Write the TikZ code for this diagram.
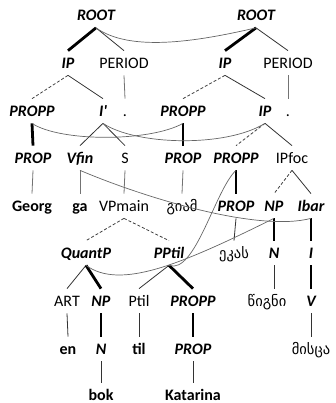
\documentclass[tikz,border=0pt]{standalone}
\usepackage{fontspec}
\setmainfont{Carlito}
\newfontfamily\geo{DejaVu Sans}
\begin{document}
\begin{tikzpicture}[x=1pt,y=-1pt,
  lab/.style={inner xsep=1pt, inner ysep=7pt, text height=10.3pt, text depth=0pt, font=\fontsize{16}{18}\selectfont},
  bi/.style={lab, font=\fontsize{16}{18}\selectfont\bfseries\itshape},
  rg/.style={lab},
  wd/.style={lab, font=\fontsize{16}{18}\selectfont\bfseries},
  ge/.style={lab, font=\geo\fontsize{14.5}{16}\selectfont},
  tk/.style={line width=2.8pt, black},
  tn/.style={line width=0.8pt, black!80},
  lt/.style={line width=0.8pt, black!55},
  ds/.style={line width=0.8pt, black!75, dash pattern=on 3pt off 2pt},
  al/.style={line width=0.7pt, black!60}]
\useasboundingbox (0,0) rectangle (336,403);
% left tree
\node[bi] (rootL) at (96,15.5) {ROOT};
\node[bi] (ipL) at (68,63) {IP};
\node[rg] (perL) at (124,63) {PERIOD};
\node[bi] (proppL) at (32,111) {PROPP};
\node[bi] (ibarL) at (103,111) {I\textquotesingle};
\node[rg] (dotL) at (125,111) {.};
\node[bi] (propL) at (33,158) {PROP};
\node[bi] (vfin) at (80,158) {Vfin};
\node[rg] (s) at (125,158) {S};
\node[wd] (georg) at (32,206) {Georg};
\node[wd] (ga) at (80,206) {ga};
\node[rg] (vpmain) at (124,206) {VPmain};
\node[bi] (quantp) at (86,253) {QuantP};
\node[bi] (pptil) at (169,253) {PPtil};
\node[rg] (art) at (67,301) {ART};
\node[bi] (npL) at (101,301) {NP};
\node[rg] (ptil) at (139,301) {Ptil};
\node[bi] (proppK) at (193,301) {PROPP};
\node[wd] (en) at (68,349) {en};
\node[bi] (nL) at (101,349) {N};
\node[wd] (til) at (139,349) {til};
\node[bi] (propK) at (193,349) {PROP};
\node[wd] (bok) at (101,395) {bok};
\node[wd] (kat) at (193,395) {Katarina};
% right tree
\node[bi] (rootR) at (256,15.5) {ROOT};
\node[bi] (ipR) at (225,63) {IP};
\node[rg] (perR) at (288,63) {PERIOD};
\node[bi] (proppR) at (183,111) {PROPP};
\node[bi] (ipR2) at (265,111) {IP};
\node[rg] (dotR) at (288,111) {.};
\node[bi] (propR) at (183,158) {PROP};
\node[bi] (proppE) at (236,158) {PROPP};
\node[rg] (ipfoc) at (292,158) {IPfoc};
\node[ge] (gia) at (182,206) {გიამ};
\node[bi] (propE) at (236,206) {PROP};
\node[bi] (npR) at (274,206) {NP};
\node[bi] (ibar) at (311,206) {Ibar};
\node[ge] (eka) at (234,253) {ეკას};
\node[bi] (nR) at (274,253) {N};
\node[bi] (iR) at (311,253) {I};
\node[ge] (tsigni) at (267,301) {წიგნი};
\node[bi] (vR) at (311,301) {V};
\node[ge] (mis) at (311,349) {მისცა};
% left edges
\draw[tk] (rootL.south) -- (ipL.north);
\draw[tn] (rootL.south) -- (perL.north);
\draw[ds] (ipL.south) -- (proppL.north);
\draw[tn] (ipL.south) -- (ibarL.north);
\draw[lt] (perL.south) -- (dotL.north);
\draw[tk] (proppL.south) -- (propL.north);
\draw[tn] (ibarL.south) -- (vfin.north);
\draw[tn] (ibarL.south) -- (s.north);
\draw[lt] (propL.south) -- (georg.north);
\draw[lt] (vfin.south) -- (ga.north);
\draw[lt] (s.south) -- (vpmain.north);
\draw[ds] (vpmain.south) -- (quantp.north);
\draw[ds] (vpmain.south) -- (pptil.north);
\draw[tn] (quantp.south) -- (art.north);
\draw[tk] (quantp.south) -- (npL.north);
\draw[tn] (pptil.south) -- (ptil.north);
\draw[tk] (pptil.south) -- (proppK.north);
\draw[tn] (art.south) -- (en.north);
\draw[tk] (npL.south) -- (nL.north);
\draw[tn] (ptil.south) -- (til.north);
\draw[tk] (proppK.south) -- (propK.north);
\draw[tn] (nL.south) -- (bok.north);
\draw[tn] (propK.south) -- (kat.north);
% right edges
\draw[tk] (rootR.south) -- (ipR.north);
\draw[tn] (rootR.south) -- (perR.north);
\draw[ds] (ipR.south) -- (proppR.north);
\draw[tn] (ipR.south) -- (ipR2.north);
\draw[lt] (perR.south) -- (dotR.north);
\draw[tk] (proppR.south) -- (propR.north);
\draw[ds] (ipR2.south) -- (proppE.north);
\draw[tn] (ipR2.south) -- (ipfoc.north);
\draw[lt] (propR.south) -- (gia.north);
\draw[tk] (proppE.south) -- (propE.north);
\draw[ds] (ipfoc.south) -- (npR.north);
\draw[tn] (ipfoc.south) -- (ibar.north);
\draw[tn] (propE.south) -- (eka.north);
\draw[tk] (npR.south) -- (nR.north);
\draw[tk] (ibar.south) -- (iR.north);
\draw[tn] (nR.south) -- (nR.south |- tsigni.north);
\draw[tk] (iR.south) -- (vR.north);
\draw[tn] (vR.south) -- (mis.north);
% alignment curves
\draw[al] (rootL.south) .. controls (130,52) and (195,42) .. (rootR.south);
\draw[al] (proppL.south) .. controls (60,142) and (150,142) .. (proppR.south);
\draw[al] (ibarL.south) .. controls (135,145) and (225,148) .. (ipR2.south);
\draw[al] (vfin.south) .. controls (150,200) and (260,232) .. (ibar.south);
\draw[al] (quantp.south) .. controls (120,290) and (180,265) .. (npR.south);
\draw[al] (pptil.south) .. controls (195,275) and (215,190) .. (proppE.south);
\end{tikzpicture}
\end{document}
